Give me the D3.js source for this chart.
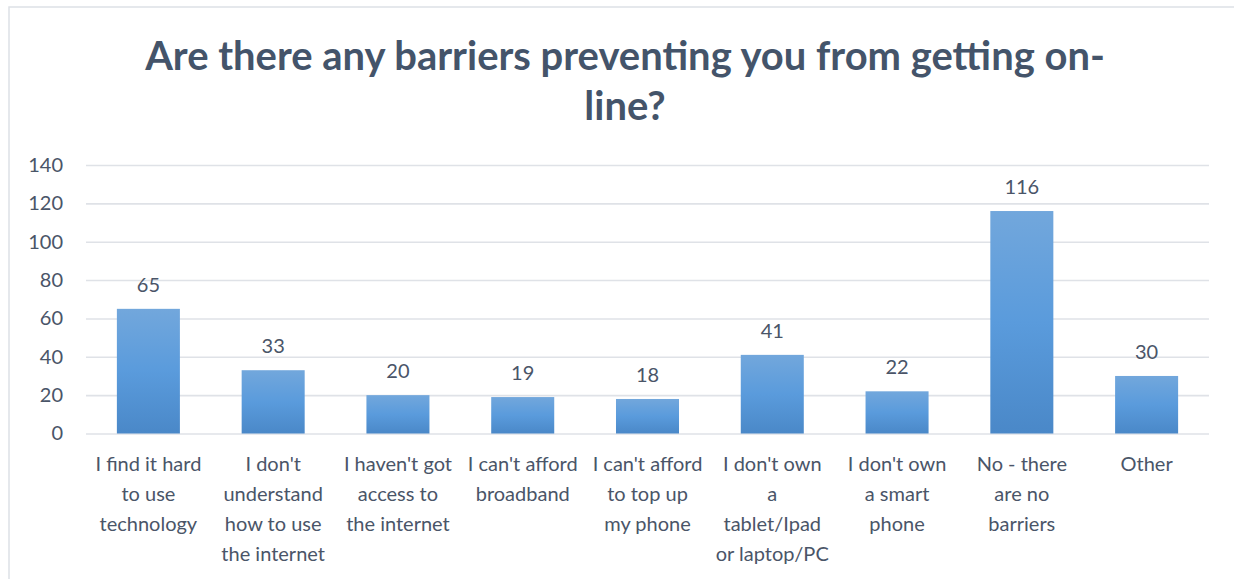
<!DOCTYPE html>
<html>
<head>
<meta charset="utf-8">
<script src="https://cdn.jsdelivr.net/npm/d3@7"></script>
<style>
  html, body { margin: 0; padding: 0; background: #fff; }
  svg { display: block; }
</style>
</head>
<body>
<svg id="chart" width="1234" height="579"></svg>
<script>
// Survey answers: one bar per response option
const categories = [
  "I find it hard to use technology",
  "I don't understand how to use the internet",
  "I haven't got access to the internet",
  "I can't afford broadband",
  "I can't afford to top up my phone",
  "I don't own a tablet/Ipad or laptop/PC",
  "I don't own a smart phone",
  "No - there are no barriers",
  "Other"
];
// Wrapped lines for each category label
const categoryLines = [
  ["I find it hard", "to use", "technology"],
  ["I don't", "understand", "how to use", "the internet"],
  ["I haven't got", "access to", "the internet"],
  ["I can't afford", "broadband"],
  ["I can't afford", "to top up", "my phone"],
  ["I don't own", "a", "tablet/Ipad", "or laptop/PC"],
  ["I don't own", "a smart", "phone"],
  ["No - there", "are no", "barriers"],
  ["Other"]
];
const counts = [65, 33, 20, 19, 18, 41, 22, 116, 30];
const yTicks = [0, 20, 40, 60, 80, 100, 120, 140];
const titleLines = ["Are there any barriers preventing you from getting on-", "line?"];

const svg = d3.select("#chart");
const W = 1234, H = 579;
const plot = { left: 86, right: 1209, top: 165, bottom: 433.5 };
const textColor = "#4a5568";
const titleColor = "#44546A";
const gridColor = "#dfe2e7";
const font = "Lato, 'Open Sans', sans-serif";

// Chart frame
svg.append("rect")
  .attr("x", 9).attr("y", 7)
  .attr("width", W + 20).attr("height", H + 20)
  .attr("fill", "#fff")
  .attr("stroke", "#dde1e6").attr("stroke-width", 1.5);

const x = d3.scaleBand().domain(categories).range([plot.left, plot.right]).padding(0);
const y = d3.scaleLinear().domain([0, 140]).range([plot.bottom, plot.top]);
const barW = x.bandwidth() / 1.98;

// Gradient fill for bars
const defs = svg.append("defs");
const grad = defs.append("linearGradient")
  .attr("id", "barGrad").attr("x1", 0).attr("y1", 0).attr("x2", 0).attr("y2", 1);
grad.append("stop").attr("offset", "0%").attr("stop-color", "#72a7dc");
grad.append("stop").attr("offset", "50%").attr("stop-color", "#5a9bdc");
grad.append("stop").attr("offset", "100%").attr("stop-color", "#4a88c8");

// Gridlines
const yAxis = d3.axisLeft(y).tickValues(yTicks).tickSize(-(plot.right - plot.left)).tickPadding(23);
const gy = svg.append("g")
  .attr("transform", `translate(${plot.left},0)`)
  .call(yAxis);
gy.select(".domain").remove();
gy.selectAll(".tick line").attr("stroke", gridColor).attr("stroke-width", 1.6);
gy.selectAll(".tick text")
  .attr("fill", textColor)
  .style("font-family", font)
  .style("font-size", "20px");

// Bars
svg.append("g").selectAll("rect")
  .data(counts)
  .join("rect")
  .attr("x", (d, i) => x(categories[i]) + (x.bandwidth() - barW) / 2)
  .attr("y", d => y(d))
  .attr("width", barW)
  .attr("height", d => y(0) - y(d))
  .attr("fill", "url(#barGrad)");

// Value labels above bars
svg.append("g").selectAll("text")
  .data(counts)
  .join("text")
  .attr("x", (d, i) => x(categories[i]) + x.bandwidth() / 2)
  .attr("y", d => y(d) - 17)
  .attr("text-anchor", "middle")
  .attr("fill", textColor)
  .style("font-family", font)
  .style("font-size", "20px")
  .text(d => d);

// Category labels
const xl = svg.append("g");
categoryLines.forEach((lines, i) => {
  const t = xl.append("text")
    .attr("text-anchor", "middle")
    .attr("fill", textColor)
    .style("font-family", font)
    .style("font-size", "20px");
  lines.forEach((ln, j) => {
    t.append("tspan")
      .attr("x", x(categories[i]) + x.bandwidth() / 2)
      .attr("y", 471 + j * 30)
      .text(ln);
  });
});

// Title: first line sized to span roughly 960px
const title = svg.append("g")
  .attr("fill", titleColor)
  .style("font-family", font)
  .style("font-weight", "bold")
  .style("font-size", "37px");
const titleTexts = titleLines.map((ln, j) =>
  title.append("text")
    .attr("x", 625)
    .attr("y", 70 + j * 50)
    .attr("text-anchor", "middle")
    .text(ln));
const len = titleTexts[0].node().getComputedTextLength();
const fs = Math.min(42, 37 * 960 / len);
title.style("font-size", fs + "px");
</script>
</body>
</html>
